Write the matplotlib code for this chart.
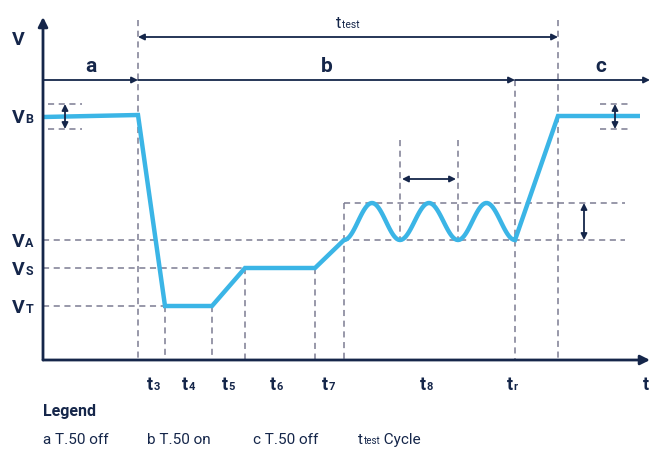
import numpy as np
import matplotlib
matplotlib.use("Agg")
import matplotlib.pyplot as plt
from matplotlib.patches import FancyArrowPatch

# ---- schematic data (chart units, y grows downward) ----
time_marks = ["t3", "t4", "t5", "t6", "t7", "t8", "tr"]
t3, t4, t5, t6, t7, t8s, tr_end = 138, 165, 212, 245, 315, 344, 515
t_end = 558
t_origin, t_max = 43, 650
osc_troughs = [344, 400, 458, 515]
V_B, V_A, V_S, V_T, V_PK = 116, 240, 268, 306, 203
V_top, V_bottom = 17, 360

wave_x = [t_origin, t3, t4, t5, t6, t7, t8s]
wave_y = [117, 115, V_T, V_T, V_S, V_S, V_A]
tail_x = [tr_end, t_end, 640]
tail_y = [V_A, V_B, V_B]

tick_labels = [("t", "3", 147), ("t", "4", 182), ("t", "5", 222), ("t", "6", 270),
               ("t", "7", 322), ("t", "8", 420), ("t", "r", 507)]
level_labels = [("V", "B", V_B), ("V", "A", V_A), ("V", "S", V_S), ("V", "T", V_T)]
legend_items = [("a T.50 off", "", "", 43), ("b T.50 on", "", "", 147),
                ("c T.50 off", "", "", 253), ("t", "test", " Cycle", 358)]

NAVY = "#15264a"
BLUE = "#3bb5e6"
GRAY = "#7c7c92"
FONT = ["Liberation Sans Narrow", "Roboto", "Liberation Sans", "DejaVu Sans"]

fig = plt.figure(figsize=(6.59, 4.51), dpi=100)
ax = fig.add_axes([0, 0, 1, 1])
ax.set_xlim(0, 659)
ax.set_ylim(451, 0)
ax.axis("off")

dash = dict(color=GRAY, lw=1.1, ls=(0, (4, 3)), zorder=1)

# vertical dashed lines
ax.plot([t3, t3], [20, V_bottom], **dash)
ax.plot([t4, t4], [V_T, V_bottom], **dash)
ax.plot([t5, t5], [V_T, V_bottom], **dash)
ax.plot([t6, t6], [V_S, V_bottom], **dash)
ax.plot([t7, t7], [V_S, V_bottom], **dash)
ax.plot([t8s, t8s], [V_PK, V_bottom], **dash)
ax.plot([400, 400], [140, V_A], **dash)
ax.plot([458, 458], [140, V_A], **dash)
ax.plot([tr_end, tr_end], [80, V_bottom], **dash)
ax.plot([t_end, t_end], [20, V_bottom], **dash)

# horizontal dashed lines
ax.plot([t_origin, 625], [V_A, V_A], **dash)
ax.plot([t_origin, t6], [V_S, V_S], **dash)
ax.plot([t_origin, t4], [V_T, V_T], **dash)
ax.plot([t8s, 625], [V_PK, V_PK], **dash)
for xa, xb in [(48, 82), (600, 632)]:
    ax.plot([xa, xb], [104, 104], **dash)
    ax.plot([xa, xb], [129, 129], **dash)

# waveform
xs = list(wave_x)
ys = list(wave_y)
for a, b in zip(osc_troughs[:-1], osc_troughs[1:]):
    x = np.linspace(a, b, 40)[1:]
    y = V_A - (V_A - V_PK) * (1 - np.cos(2 * np.pi * (x - a) / (b - a))) / 2
    xs += list(x)
    ys += list(y)
xs += tail_x[1:]
ys += tail_y[1:]
ax.plot(xs, ys, color=BLUE, lw=3.2, solid_joinstyle="miter", solid_capstyle="butt", zorder=3)


def arrow(p0, p1, style="-|>", lw=1.3, ms=9):
    ax.add_patch(FancyArrowPatch(p0, p1, arrowstyle=style, mutation_scale=ms,
                                 color=NAVY, lw=lw, shrinkA=0, shrinkB=0, zorder=4))


# axes
arrow((t_origin, V_bottom), (t_origin, V_top), lw=2.0, ms=14)
arrow((t_origin, V_bottom), (t_max, V_bottom), lw=2.0, ms=14)

# phase arrows
arrow((t_origin, 80), (t3, 80))
arrow((t3, 80), (tr_end, 80))
arrow((tr_end, 80), (t_max, 80))
arrow((t3, 37), (t_end, 37), style="<|-|>")
arrow((402, 179), (456, 179), style="<|-|>")
arrow((584, V_PK), (584, V_A), style="<|-|>")
arrow((65, 104), (65, 129), style="<|-|>")
arrow((615, 104), (615, 129), style="<|-|>")

renderer = fig.canvas.get_renderer()
inv = ax.transData.inverted()


def right_edge(t):
    bb = t.get_window_extent(renderer=renderer)
    return inv.transform((bb.x1, bb.y0))[0]


def sub_text(x, y, main, sub, tail="", size=13, subsize=8, weight="bold", color=NAVY):
    t = ax.text(x, y, main, fontsize=size, fontweight=weight, color=color,
                family=FONT, va="baseline", ha="left")
    if sub:
        s = ax.text(right_edge(t) + 0.5, y, sub, fontsize=subsize, fontweight=weight,
                    color=color, family=FONT, va="baseline", ha="left")
        if tail:
            ax.text(right_edge(s), y, tail, fontsize=size, fontweight=weight,
                    color=color, family=FONT, va="baseline", ha="left")
    return t


# labels
sub_text(12, 45, "V", "", size=14)
for main, sub, lvl in level_labels:
    sub_text(12, lvl + 7, main, sub, size=14, subsize=9)
for main, sub, x in tick_labels:
    sub_text(x, 390, main, sub, size=13, subsize=8)
sub_text(643, 390, "t", "", size=13)

ax.text(91, 72, "a", fontsize=15, fontweight="bold", color=NAVY, family=FONT, ha="center")
ax.text(327, 72, "b", fontsize=15, fontweight="bold", color=NAVY, family=FONT, ha="center")
ax.text(601, 72, "c", fontsize=15, fontweight="bold", color=NAVY, family=FONT, ha="center")
sub_text(336, 28, "t", "test", size=12, subsize=7.5, weight="normal")

ax.text(43, 416, "Legend", fontsize=11.5, fontweight="bold", color=NAVY, family=FONT)
for main, sub, tail, x in legend_items:
    sub_text(x, 444, main, sub, tail, size=11, subsize=7, weight="normal")

fig.savefig("out.png", dpi=100)
